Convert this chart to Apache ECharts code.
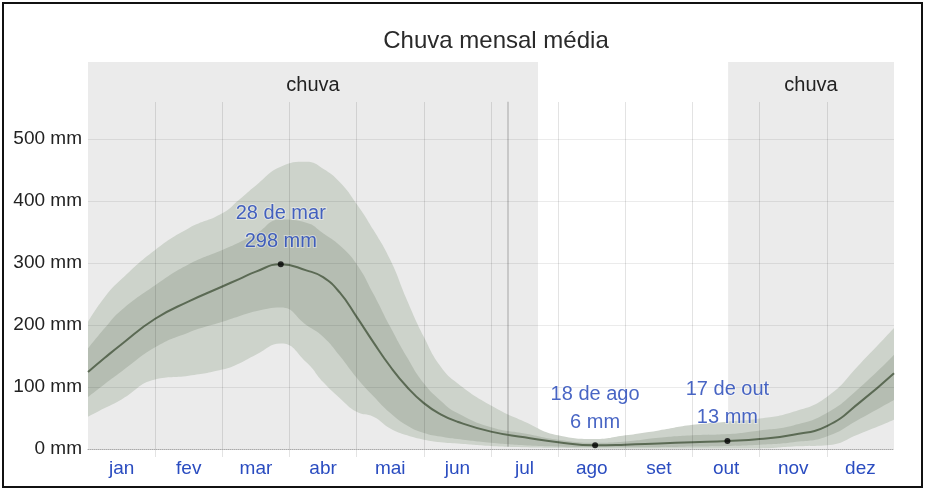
<!DOCTYPE html>
<html>
<head>
<meta charset="utf-8">
<script src="https://cdn.jsdelivr.net/npm/echarts@6/dist/echarts.min.js"></script>
<style>html,body{margin:0;padding:0;background:#fff}#c{width:926px;height:491px}</style>
</head>
<body>
<div id="c"></div>
<script>
// ---- data ----
const months = ['jan','fev','mar','abr','mai','jun','jul','ago','set','out','nov','dez'];
// x positions in month units (0 = 1 jan, 12 = 31 dez)
const xPos = [0, 0.25, 0.5, 1, 1.5, 2, 2.25, 2.5, 2.87, 3.25, 3.5, 3.75, 4, 4.25, 4.5, 4.75, 5, 5.25, 5.5, 6, 6.5, 7, 7.55, 8, 8.5, 9, 9.52, 10, 10.5, 11, 11.5, 12];
const p10  = [52, 66, 80, 112, 118, 128, 138, 152, 170, 140, 108, 82, 60, 52, 33, 22, 15, 11, 9, 5, 3, 2, 1, 1, 1, 1, 1, 1, 4, 6, 25, 47];
const p25  = [84, 105, 125, 164, 188, 205, 214, 222, 228, 200, 181, 150, 115, 85, 58, 38, 26, 20, 16, 10, 6, 4, 3, 3, 3, 4, 5, 7, 11, 20, 49, 79];
const mean = [124, 147, 169, 210, 238, 262, 274, 286, 298, 288, 277, 252, 213, 172, 133, 100, 74, 56, 44, 28, 19, 11, 6, 7, 9, 11, 13, 16, 23, 37, 76, 122];
const p75  = [162, 195, 224, 264, 298, 321, 333, 347, 370, 365, 348, 328, 298, 250, 197, 148, 106, 78, 58, 35, 25, 15, 10, 12, 18, 22, 24, 30, 38, 58, 100, 152];
const p90  = [205, 245, 274, 321, 356, 380, 402, 425, 455, 463, 452, 430, 395, 353, 305, 240, 181, 133, 106, 70, 44, 22, 16, 22, 30, 39, 44, 49, 60, 84, 138, 195];
const yTicks = [0, 100, 200, 300, 400, 500];
const rainStart = [0, 9.53];
const rainEnd = [6.7, 12];
const rainLabel = 'chuva';
const annX = [2.87, 7.55, 9.52];
const annY = [298, 6, 13];
const annDate = ['28 de mar', '18 de ago', '17 de out'];
const todayPos = 6.25;

// ---- chart ----
const FONT = "'Liberation Sans', Arial, sans-serif";
const pairs = (a) => xPos.map((x, i) => [x, a[i]]);
const LIGHT = '#cdd3cb', DARK = '#b5bdb2', BG = '#ebebeb';
const gl = 88, gr = 32, gt = 62, gb = 42;
const yMax = 624;
const SMOOTH = 0.5;

const chart = echarts.init(document.getElementById('c'), null, {renderer: 'canvas'});
const band = (arr, color, z) => ({type: 'line', xAxisIndex: 1, yAxisIndex: 0, symbol: 'none', smooth: SMOOTH,
  lineStyle: {width: 0, opacity: 0}, silent: true, z: z, data: pairs(arr),
  areaStyle: {color: color, opacity: 1, origin: 'start'}});

chart.setOption({
  animation: false,
  backgroundColor: '#fff',
  title: {
    text: 'Chuva mensal média',
    left: gl + (926 - gl - gr) / 2, top: 24, textAlign: 'center',
    textStyle: {fontFamily: FONT, fontSize: 24, fontWeight: 'normal', color: '#2a2a2a'}
  },
  graphic: [{type: 'rect', shape: {x: 3, y: 3, width: 919, height: 484}, style: {fill: 'none', stroke: '#111', lineWidth: 2}, z: 100}],
  grid: [
    {left: gl, right: gr, top: gt, bottom: gb},
    {left: gl, right: gr, top: 102, bottom: 34}
  ],
  xAxis: [
    {gridIndex: 0, type: 'category', data: months, boundaryGap: true, z: 10,
     axisLine: {show: true, lineStyle: {color: '#aaa', type: 'dotted', width: 1}},
     axisTick: {show: false},
     axisLabel: {color: '#2a4cc0', fontSize: 19, margin: 10, fontFamily: FONT, interval: 0},
     splitLine: {show: false}},
    {gridIndex: 0, type: 'value', min: 0, max: 12, show: false},
    {gridIndex: 1, type: 'category', data: months, boundaryGap: true, z: 10,
     axisLine: {show: false}, axisTick: {show: false}, axisLabel: {show: false},
     splitLine: {show: true, interval: 0, showMinLine: false, showMaxLine: false, lineStyle: {color: 'rgba(0,0,0,0.11)', width: 1}}}
  ],
  yAxis: [
    {gridIndex: 0, type: 'value', min: 0, max: yMax, interval: 100, z: 10,
     axisLine: {show: false}, axisTick: {show: false},
     axisLabel: {color: '#222', fontSize: 19, margin: 6, fontFamily: FONT,
       formatter: (v) => yTicks.indexOf(v) >= 0 ? v + ' mm' : ''},
     splitLine: {show: true, lineStyle: {color: ['rgba(0,0,0,0)', 'rgba(0,0,0,0.08)', 'rgba(0,0,0,0.08)', 'rgba(0,0,0,0.08)', 'rgba(0,0,0,0.08)', 'rgba(0,0,0,0.08)', 'rgba(0,0,0,0)', 'rgba(0,0,0,0)'], width: 1}}},
    {gridIndex: 1, type: 'value', show: false}
  ],
  series: [
    {type: 'line', xAxisIndex: 1, yAxisIndex: 0, data: [], z: 1, silent: true,
     markArea: {silent: true, itemStyle: {color: BG},
       label: {show: true, position: 'insideTop', distance: 13, color: '#222', fontSize: 20, fontFamily: FONT},
       data: rainStart.map((s, i) => [{xAxis: s, name: rainLabel}, {xAxis: rainEnd[i]}])},
     markLine: {silent: true, symbol: 'none', label: {show: false},
       lineStyle: {color: 'rgba(0,0,0,0.2)', width: 1.5, type: 'solid'},
       data: [[{coord: [todayPos, 0]}, {coord: [todayPos, 560]}]]}},
    band(p90, LIGHT, 2),
    band(p75, DARK, 3),
    band(p25, LIGHT, 4),
    band(p10, BG, 5),
    {type: 'line', xAxisIndex: 1, yAxisIndex: 0, data: pairs(mean), symbol: 'none', smooth: SMOOTH, z: 6,
     lineStyle: {color: '#5b6a54', width: 2}},
    {type: 'scatter', xAxisIndex: 1, yAxisIndex: 0, z: 20, symbolSize: 6,
     itemStyle: {color: '#000'},
     data: annX.map((x, i) => [x, annY[i]]),
     label: {show: true, position: 'top', distance: 6, fontFamily: FONT, fontSize: 20, lineHeight: 28,
       color: '#1a3fb5', textBorderColor: 'rgba(255,255,255,0.5)', textBorderWidth: 2,
       formatter: (p) => annDate[p.dataIndex] + '\n' + annY[p.dataIndex] + ' mm'}}
  ]
});
</script>
</body>
</html>
